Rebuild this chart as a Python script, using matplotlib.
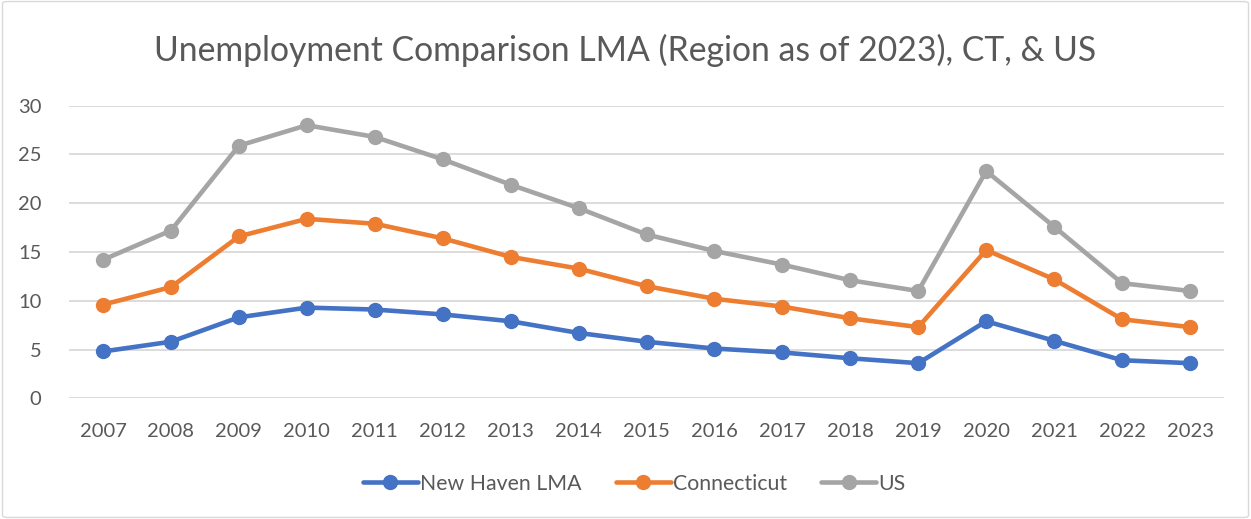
import matplotlib.pyplot as plt
from matplotlib.patches import FancyBboxPatch

plt.rcParams['font.family'] = ['Lato', 'DejaVu Sans']

years = ['2007', '2008', '2009', '2010', '2011', '2012', '2013', '2014', '2015',
         '2016', '2017', '2018', '2019', '2020', '2021', '2022', '2023']
# stacked line chart: values as plotted (cumulative)
new_haven = [4.8, 5.8, 8.3, 9.3, 9.1, 8.6, 7.9, 6.7, 5.8, 5.1, 4.7, 4.1, 3.6, 7.9, 5.9, 3.9, 3.6]
connecticut = [9.6, 11.4, 16.6, 18.4, 17.9, 16.4, 14.5, 13.3, 11.5, 10.2, 9.4, 8.2, 7.3, 15.2, 12.2, 8.1, 7.3]
us = [14.2, 17.2, 25.9, 28.0, 26.8, 24.5, 21.9, 19.5, 16.8, 15.1, 13.7, 12.1, 11.0, 23.3, 17.6, 11.8, 11.0]

series = [('New Haven LMA', new_haven, '#4472C4'),
          ('Connecticut', connecticut, '#ED7D31'),
          ('US', us, '#A5A5A5')]

fig = plt.figure(figsize=(12.51, 5.19), dpi=100)
ax = fig.add_axes([0.0552, 0.2326, 0.9232, 0.5637])

x = range(len(years))
for name, vals, col in series:
    ax.plot(x, vals, color=col, lw=3.3, marker='o', ms=10, label=name,
            solid_capstyle='round', solid_joinstyle='round')

ax.set_xlim(-0.5, len(years) - 0.5)
ax.set_ylim(0, 30)
ax.set_yticks(range(0, 31, 5))
ax.set_xticks(list(x))
ax.set_xticklabels(years)
ax.grid(axis='y', color='#D9D9D9', lw=1.3)
ax.set_axisbelow(True)
for s in ax.spines.values():
    s.set_visible(False)
ax.tick_params(length=0, labelsize=14.5, colors='#595959', pad=12)
ax.tick_params(axis='x', pad=18)
ax.tick_params(axis='y', pad=20)

fig.text(0.5, 0.903, 'Unemployment Comparison LMA (Region as of 2023), CT, & US',
         ha='center', va='center', fontsize=24.3, color='#595959')

fig.legend(loc='center', bbox_to_anchor=(0.507, 0.068), ncol=3, frameon=False,
           fontsize=15.3, labelcolor='#595959', handlelength=2.6,
           handletextpad=0.1, columnspacing=1.6)

fig.patches.append(FancyBboxPatch((0.002, 0.003), 0.996, 0.994,
                                  boxstyle='round,pad=0,rounding_size=0.004',
                                  transform=fig.transFigure, fill=False,
                                  ec='#D9D9D9', lw=1))

fig.savefig('out.png', dpi=100)
